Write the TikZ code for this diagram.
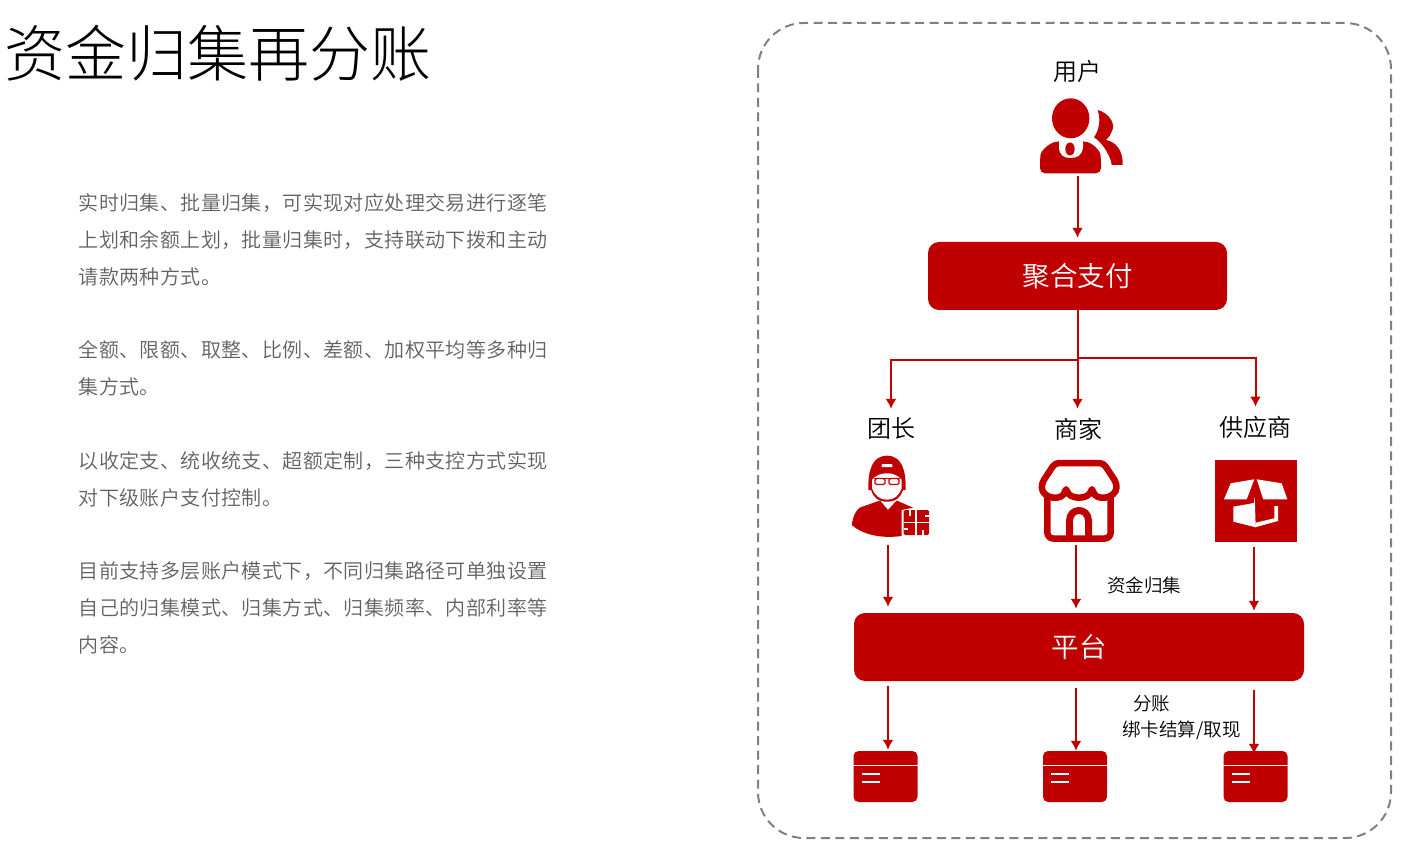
\documentclass[tikz,border=0pt]{standalone}
\usepackage{fontspec}
\usetikzlibrary{arrows.meta,positioning}
\setmainfont{Noto Sans CJK SC}
\newfontfamily\cjklight{Noto Sans CJK SC Light}
\newfontfamily\cjkdemi{Noto Sans CJK SC DemiLight}
\newfontfamily\cjkbody[LetterSpace=2.0]{Noto Sans CJK SC DemiLight}
\definecolor{payred}{HTML}{C00000}
\definecolor{bodygray}{HTML}{606060}
\definecolor{framegray}{HTML}{808080}

\newcommand{\cardmarks}[1]{
\draw[white,line width=1.6pt] ([yshift=-14.5pt]#1.north west) -- ([yshift=-14.5pt]#1.north east);
\draw[white,line width=2.2pt] ([xshift=8.5pt,yshift=-23pt]#1.north west) -- +(18,0);
\draw[white,line width=2.2pt] ([xshift=8.5pt,yshift=-31pt]#1.north west) -- +(18,0);
}

\begin{document}
\begin{tikzpicture}[x=1pt,y=-1pt]
\tikzset{bodytext/.style={anchor=north west,align=left,inner sep=0pt,text=bodygray,font=\cjkbody\fontsize{20}{37}\selectfont}}
\tikzset{bar/.style={fill=payred,rounded corners=11pt,text=white,inner sep=0pt,font=\cjkdemi\fontsize{27.5}{30}\selectfont}}
\tikzset{who/.style={inner sep=0pt,font=\cjkdemi\fontsize{24}{26}\selectfont}}
\tikzset{note/.style={inner sep=0pt,font=\cjkdemi\fontsize{18.5}{20}\selectfont}}
\tikzset{icon/.style={inner sep=0pt,minimum width=60pt}}
\tikzset{card/.style={fill=payred,rounded corners=5pt,inner sep=0pt,minimum width=64pt,minimum height=51pt}}
\tikzset{flow/.style={payred,line width=2pt,-{Latex[length=10pt,width=11pt]}}}
\useasboundingbox (0,0) rectangle (1422,858);

\node (title) [inner sep=0pt,font=\cjklight\fontsize{61}{64}\selectfont] at (218,53) {资金归集再分账};
\node (para1) [bodytext] at (78.5,193) {实时归集、批量归集，可实现对应处理交易进行逐笔\\上划和余额上划，批量归集时，支持联动下拨和主动\\请款两种方式。};
\node (para2) [bodytext] at (78.5,340) {全额、限额、取整、比例、差额、加权平均等多种归\\集方式。};
\node (para3) [bodytext] at (78.5,451) {以收定支、统收统支、超额定制，三种支控方式实现\\对下级账户支付控制。};
\node (para4) [bodytext] at (78.5,561) {目前支持多层账户模式下，不同归集路径可单独设置\\自己的归集模式、归集方式、归集频率、内部利率等\\内容。};

\draw[framegray,line width=2pt,dash pattern=on 9pt off 5.5pt,rounded corners=46pt] (758,23) rectangle (1391,838); %outer frame

\node (user) [who] at (1077,71) {用户};
\node (usericon) [icon,minimum height=78pt] at (1078,137) {};
\node (juhe) [bar,minimum width=299pt,minimum height=68pt] at (1077.5,276) {聚合支付};
\node (tuan) [who] at (891,428) {团长};
\node (shang) [who] at (1078,429) {商家};
\node (gong) [who] at (1255.5,427) {供应商};
\node (tuanicon) [icon,minimum height=90pt] at (888,500) {};
\node (shangicon) [icon,minimum height=90pt] at (1076,500) {};
\node (gongicon) [icon,minimum height=92pt] at (1254,501) {};
\node (pingtai) [bar,minimum width=450pt,minimum height=68pt] at (1079,647) {平台};
\node (ziji) [note] at (1144,585) {资金归集};
\node (fenzhang) [note] at (1151.5,703.5) {分账};
\node (bangka) [note] at (1181.5,730.5) {绑卡结算/取现};
\node (card1) [card] at (885.5,776.5) {};
\node (card2) [card] at (1075,776.5) {};
\node (card3) [card] at (1255.5,776.5) {};
\cardmarks{card1}
\cardmarks{card2}
\cardmarks{card3}

% user
\fill[payred] (1070.7,118.3) ellipse (18.7 and 20);
\fill[payred] (1040,173.3) [rounded corners=5pt] -- (1040,160) .. controls (1041,150) and (1050,143) .. (1060,141) -- (1082,141) .. controls (1092,143) and (1100,150) .. (1101,160) -- (1101,173.3) -- cycle;
\fill[white] (1059,140) -- (1083,140) -- (1083,147) .. controls (1082,156) and (1077,158) .. (1070,158) .. controls (1064,158) and (1059,155) .. (1059,147) -- cycle;
\fill[payred] (1070,149) ellipse (4.7 and 6.5);
\fill[payred] (1097.7,110) .. controls (1109,113) and (1116,124) .. (1112,131) .. controls (1111,134) and (1109,137) .. (1106,140) .. controls (1116,142) and (1123,150) .. (1122.7,165) -- (1111.7,165) .. controls (1111,157) and (1103,143) .. (1094,137.3) .. controls (1099,130) and (1101,120) .. (1097.7,110) -- cycle;

% leader
\fill[payred] (868.3,490) .. controls (868,470) and (872,456) .. (887,455.7) .. controls (902,456) and (906,470) .. (905.7,490) -- (903,490) .. controls (901,497) and (896,501.7) .. (887,501.7) .. controls (878,501.7) and (873,497) .. (871,490) -- cycle;
\fill[white] (872,480) .. controls (878,471) and (896,471) .. (901.7,480) -- (901.7,488) .. controls (899,496) and (894,499.7) .. (887,499.7) .. controls (880,499.7) and (875,496) .. (872,488) -- cycle;
\fill[white] (882,464) -- (892,464) -- (892.5,467) -- (881.5,467) -- cycle;
\draw[payred,line width=1.2pt] (874,478.5) -- (900,478.5);
\draw[payred,line width=1.1pt,rounded corners=1.5pt] (875,478.5) rectangle (885,484.5);
\draw[payred,line width=1.1pt,rounded corners=1.5pt] (889,478.5) rectangle (899,484.5);
\fill[payred] (851.7,525) .. controls (853,516) and (856,510) .. (860,507.5) -- (880,500.5) -- (888,510) -- (896.7,500.5) -- (913,507.7) -- (901.5,510) -- (901.5,536) .. controls (880,539) and (862,534) .. (851.7,525) -- cycle;
\fill[payred,rounded corners=1.5pt] (903.5,510) rectangle (929,535);
\draw[white,line width=1.8pt] (916.2,510) -- (916.2,535);
\draw[white,line width=1.8pt] (903.5,522.5) -- (929,522.5);
\draw[white,line width=2pt] (909.5,510) -- (909.5,515.5);
\draw[white,line width=2pt] (929,515.5) -- (925,515.5);
\draw[white,line width=2pt] (903.5,528.5) -- (907.5,528.5);
\draw[white,line width=2pt] (923,535) -- (923,530);

% shop
\draw[payred,line width=6.5pt,line join=round,rounded corners=4pt] (1055,463) -- (1103.3,463) -- (1116.7,483.3) .. controls (1116,499) and (1095,502) .. (1092,487) .. controls (1089,500) and (1069,500) .. (1066,487) .. controls (1063,502) and (1042,499) .. (1041.7,483.3) -- cycle;
\draw[payred,line width=6.5pt,rounded corners=6pt] (1047.3,497) -- (1047.3,538.5) -- (1110.7,538.5) -- (1110.7,497);
\draw[payred,line width=7pt] (1069.5,539) -- (1069.5,521) .. controls (1069.5,507) and (1088.5,507) .. (1088.5,521) -- (1088.5,539);

% box
\fill[payred] (1215,460) rectangle (1296.5,541.5);
\fill[white] (1230.7,483.3) -- (1254.3,479.3) -- (1246.7,499.3) -- (1224,499.3) -- cycle;
\fill[white] (1256.7,479.3) -- (1281.7,483.3) -- (1287.3,499.3) -- (1263.3,499.3) -- cycle;
\fill[white] (1233.3,506.7) -- (1254,503) -- (1254.7,496.7) -- (1255.7,527.3) -- (1233.3,521.7) -- cycle;
\fill[white] (1255.7,522.7) -- (1274.3,518.3) -- (1274.3,506) -- (1278,506) -- (1278,521) -- (1255,527.3) -- cycle;

% connectors
\draw[flow,shorten >=4pt] (usericon.south -| juhe.north) -- (juhe.north);
\draw[flow,shorten >=9pt] (juhe.south) -- (juhe.south |- shang.north);
\draw[flow,shorten >=8pt] (juhe.south) -- ++(0,50) -| (tuan.north);
\draw[flow,shorten >=9pt] (juhe.south) -- ++(0,48) -| (gong.north);
\draw[flow,shorten >=6pt] (tuanicon.south) -- (tuanicon.south |- pingtai.north);
\draw[flow,shorten >=4pt] (shangicon.south) -- (shangicon.south |- pingtai.north);
\draw[flow,shorten >=2pt] (gongicon.south) -- (gongicon.south |- pingtai.north);
\draw[flow,shorten <=5pt,shorten >=1pt] (pingtai.south -| tuanicon.south) -- (card1.north -| tuanicon.south);
\draw[flow,shorten <=7pt] (pingtai.south -| shangicon.south) -- (card2.north -| shangicon.south);
\draw[flow,shorten <=9pt,shorten >=-3pt] (pingtai.south -| gongicon.south) -- (card3.north -| gongicon.south);
\end{tikzpicture}
\end{document}
